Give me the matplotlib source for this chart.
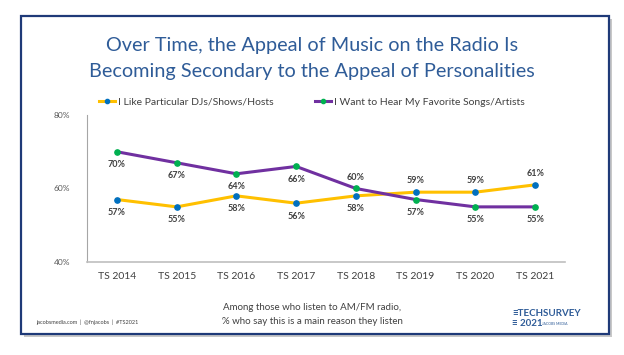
import matplotlib.pyplot as plt
from matplotlib.patches import Rectangle

years = ['TS 2014', 'TS 2015', 'TS 2016', 'TS 2017', 'TS 2018', 'TS 2019', 'TS 2020', 'TS 2021']
djs = [57, 55, 58, 56, 58, 59, 59, 61]
songs = [70, 67, 64, 66, 60, 57, 55, 55]
# label placement: True = above the point
djs_above = [False, False, False, False, False, True, True, True]
songs_above = [False, False, False, False, True, False, False, False]

plt.rcParams['font.family'] = ['Lato', 'DejaVu Sans']

fig = plt.figure(figsize=(6.24, 3.55), dpi=100)
W, H = 624, 355

def fx(px):
    return px / W

def fy(py):
    return 1 - py / H

# frame with shadow
fig.patches.append(Rectangle((fx(24), fy(337)), fx(588) - fx(0), fy(0) - fy(318),
                             transform=fig.transFigure, facecolor='#c8c8c8',
                             edgecolor='none', zorder=-3))
fig.patches.append(Rectangle((fx(21), fy(334)), fx(588) - fx(0), fy(0) - fy(318),
                             transform=fig.transFigure, facecolor='white',
                             edgecolor='#1F3A78', lw=1.6, zorder=-2))

fig.text(0.5, fy(45), 'Over Time, the Appeal of Music on the Radio Is',
         ha='center', va='center', fontsize=14.3, color='#2F5C98')
fig.text(0.5, fy(72), 'Becoming Secondary to the Appeal of Personalities',
         ha='center', va='center', fontsize=14.3, color='#2F5C98')

ax = fig.add_axes([fx(87), fy(262), fx(565) - fx(87), fy(115) - fy(262)])
ax.set_facecolor('none')
x = list(range(len(years)))
ax.plot(x, djs, color='#FFC000', lw=2.2, marker='o', ms=3.8,
        mfc='#0070C0', mec='#0070C0', label='I Like Particular DJs/Shows/Hosts', zorder=3)
ax.plot(x, songs, color='#7030A0', lw=2.2, marker='o', ms=3.8,
        mfc='#00B050', mec='#00B050', label='I Want to Hear My Favorite Songs/Artists', zorder=3)

for xi, v, up in zip(x, djs, djs_above):
    ax.annotate(f'{v}%', (xi, v), xytext=(0, 5 if up else -6), textcoords='offset points',
                ha='center', va='bottom' if up else 'top', fontsize=6.5,
                fontweight='bold', color='#404040')
for xi, v, up in zip(x, songs, songs_above):
    ax.annotate(f'{v}%', (xi, v), xytext=(0, 5 if up else -6), textcoords='offset points',
                ha='center', va='bottom' if up else 'top', fontsize=6.5,
                fontweight='bold', color='#404040')

ax.set_xlim(-0.5, 7.5)
ax.set_ylim(40, 80)
ax.set_yticks([40, 60, 80])
ax.set_yticklabels(['40%', '60%', '80%'])
ax.set_xticks(x)
ax.set_xticklabels(years)
ax.tick_params(axis='y', length=0, labelsize=6, colors='#595959', pad=12)
ax.tick_params(axis='x', length=0, labelsize=7.5, colors='#404040', pad=7)
for s in ['top', 'right']:
    ax.spines[s].set_visible(False)
ax.spines['left'].set_color('#a6a6a6')
ax.spines['bottom'].set_color('#bfbfbf')
ax.spines['bottom'].set_linewidth(1.2)

ax.legend(loc='center', bbox_to_anchor=(0.5, fy(102), 0, 0), bbox_transform=fig.transFigure,
          ncol=2, frameon=False, fontsize=7.5, handlelength=1.5, handletextpad=0.3,
          columnspacing=4, labelcolor='#404040', markerscale=0.8)

fig.text(0.5, fy(308), 'Among those who listen to AM/FM radio,', ha='center', va='center',
         fontsize=7, color='#404040')
fig.text(0.5, fy(322), '% who say this is a main reason they listen', ha='center', va='center',
         fontsize=7, color='#404040')
fig.text(fx(36), fy(322), 'jacobsmedia.com  |  @fnjacobs  |  #TS2021', ha='left', va='center',
         fontsize=4, color='#404040')
fig.text(fx(512), fy(313), '\u2261TECHSURVEY', ha='left', va='center', fontsize=7,
         fontweight='bold', color='#2F5C98')
fig.text(fx(512), fy(323), '\u2261 2021', ha='left', va='center', fontsize=7,
         fontweight='bold', color='#2F5C98')
fig.text(fx(542), fy(324), 'JACOBS MEDIA', ha='left', va='center', fontsize=2.5,
         color='#2F5C98')

fig.savefig('out.png', dpi=100)
